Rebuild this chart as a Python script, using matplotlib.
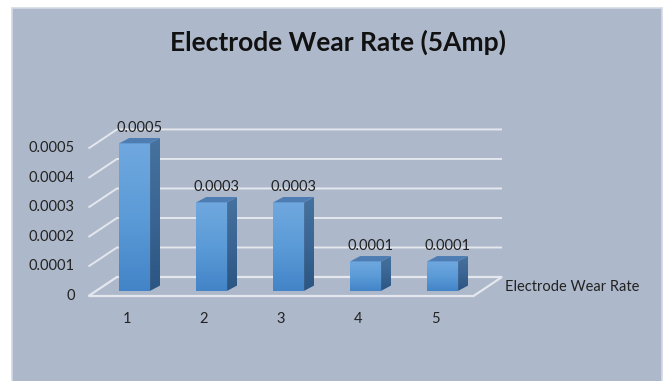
import numpy as np
import matplotlib.pyplot as plt
from matplotlib.patches import Polygon, Rectangle
from matplotlib.colors import LinearSegmentedColormap

plt.rcParams['font.family'] = ['Lato', 'DejaVu Sans']

categories = [1, 2, 3, 4, 5]
wear_rate = [0.0005, 0.0003, 0.0003, 0.0001, 0.0001]
y_ticks = [0, 0.0001, 0.0002, 0.0003, 0.0004, 0.0005]
y_tick_labels = ['0', '0.0001', '0.0002', '0.0003', '0.0004', '0.0005']
series_name = 'Electrode Wear Rate'
title = 'Electrode Wear Rate (5Amp)'

bg = '#adb8ca'
grid_color = '#e4e8ee'

fig = plt.figure(figsize=(6.67, 3.81), dpi=100)
fig.patch.set_facecolor('white')
fig.patches.append(Rectangle((12 / 667, -0.02), 650 / 667, 373 / 381 + 0.02,
                             transform=fig.transFigure, facecolor=bg,
                             edgecolor='#d3dae4', linewidth=1.2, zorder=-1))

ax = fig.add_axes([0, 0, 1, 1])
ax.set_facecolor('none')
ax.axis('off')

# oblique depth vector of the floor / walls (data units)
ddx, ddy = 0.37, 0.0000644
x0, x1 = 0.5, 5.5

# floor
floor = Polygon([(x0, 0), (x0 + ddx, ddy), (x1 + ddx, ddy), (x1, 0)],
                closed=True, facecolor='none', edgecolor=grid_color,
                linewidth=1.6, zorder=1)
ax.add_patch(floor)

# gridlines on side wall and back wall
for v in y_ticks[1:]:
    ax.plot([x0, x0 + ddx, x1 + ddx], [v, v + ddy, v + ddy],
            color=grid_color, linewidth=1.4, zorder=1, solid_capstyle='butt')

label_kw = dict(fontsize=10.5, color='#222222')
for v, lab in zip(y_ticks, y_tick_labels):
    ax.text(0.32, v, lab, ha='right', va='center', **label_kw)

for c in categories:
    ax.text(c, -0.000078, str(c), ha='center', va='center', **label_kw)

ax.text(5.91, 0.00003, series_name, ha='left', va='center', **label_kw)

# 3D columns
width = 0.4
d0, d1 = 0.27, 0.62
sx, sy = (d1 - d0) * ddx, (d1 - d0) * ddy * 0.8
front_cmap = LinearSegmentedColormap.from_list('front', ['#4384c8', '#5b9bd7', '#70a8df'])
side_cmap = LinearSegmentedColormap.from_list('side', ['#2b5582', '#3a6594', '#46729f'])

bars = ax.bar([c + d0 * ddx for c in categories], wear_rate, width=width,
              bottom=d0 * ddy, color='#5b9bd5', zorder=3, linewidth=0)

grad = np.linspace(0, 1, 256).reshape(-1, 1)
for bar, v in zip(bars, wear_rate):
    xl = bar.get_x()
    xr = xl + width
    yb = bar.get_y()
    yt = yb + v
    im = ax.imshow(grad, cmap=front_cmap, origin='lower', aspect='auto',
                   extent=(xl, xr, yb, yt), zorder=3.1)
    im.set_clip_path(bar)

    side = Polygon([(xr, yb), (xr + sx, yb + sy), (xr + sx, yt + sy), (xr, yt)],
                   closed=True, facecolor='none', edgecolor='none', zorder=3)
    ax.add_patch(side)
    im2 = ax.imshow(grad, cmap=side_cmap, origin='lower', aspect='auto',
                    extent=(xr, xr + sx, yb, yt + sy), zorder=3)
    im2.set_clip_path(side)

    top = Polygon([(xl, yt), (xr, yt), (xr + sx, yt + sy), (xl + sx, yt + sy)],
                  closed=True, facecolor='#4e7db3', edgecolor='none', zorder=3.2)
    ax.add_patch(top)

    ax.annotate(f'{v:.4f}', (xl + width / 2 + sx / 2, yt + sy), xytext=(0, 2),
                textcoords='offset points', ha='center', va='bottom',
                zorder=4, **label_kw)

ax.set_xlim(-0.649, 8.013)
ax.set_ylim(-0.000288, 0.001003)

fig.text(0.507, 0.89, title, ha='center', va='center', fontsize=19,
         fontweight='bold', color='#111111')

fig.savefig('out.png', dpi=100, facecolor=fig.get_facecolor())
